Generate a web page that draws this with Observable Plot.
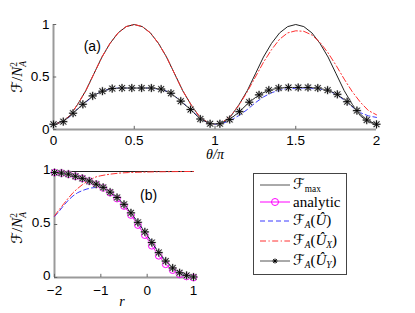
<!DOCTYPE html>
<html><head><meta charset="utf-8">
<script src="https://cdn.jsdelivr.net/npm/d3@7"></script>
<script src="https://cdn.jsdelivr.net/npm/@observablehq/plot@0.6"></script>
<style>
body{margin:0;background:#fff;}
#wrap{position:relative;width:415px;height:313px;overflow:hidden;font-family:"Liberation Sans",Arial,sans-serif;}
.abs{position:absolute;}
.panel svg{display:block;}
.ylab{position:absolute;transform:translate(-50%,-50%) rotate(-90deg);white-space:nowrap;font-family:"Liberation Serif",serif;font-size:15px;line-height:1;}
.cal{font-family:"DejaVu Serif","DejaVu Sans",serif;font-style:italic;}
.ss{display:inline-block;vertical-align:-0.45em;line-height:0.95;font-size:0.62em;text-align:left;}
.ss span{display:block;}
.xlab{position:absolute;transform:translate(-50%,-50%);font-family:"Liberation Serif",serif;font-style:italic;font-size:14px;line-height:1;white-space:nowrap;}
#legend{position:absolute;left:253px;top:173px;width:94px;height:102px;border:1px solid #444;background:#fff;box-sizing:border-box;}
.lrow{position:absolute;left:6px;height:18px;display:flex;align-items:center;font-family:"Liberation Serif",serif;font-size:15px;white-space:nowrap;}
.lrow svg{margin-right:3px;}
.lrow sub{font-size:0.62em;vertical-align:-0.35em;}
</style></head><body><div id="wrap"></div>
<script>
// ---------- Panel (a): θ/π on x ----------
const thetaA = [0,0.05,0.1,0.15,0.2,0.25,0.3,0.35,0.4,0.45,0.5,0.55,0.6,0.65,0.7,0.75,0.8,0.85,0.9,0.95,1.0,
  1.05,1.1,1.15,1.2,1.25,1.3,1.35,1.4,1.45,1.5,1.55,1.6,1.65,1.7,1.75,1.8,1.85,1.9,1.95,2.0];
const fmaxA = [0.05,0.07,0.13,0.24,0.37,0.53,0.69,0.82,0.92,0.98,1.0,0.98,0.92,0.82,0.69,0.53,0.37,0.24,0.13,0.07,0.05,
  0.07,0.13,0.24,0.37,0.53,0.69,0.82,0.92,0.98,1.0,0.98,0.92,0.82,0.69,0.53,0.37,0.24,0.13,0.07,0.05];
const uxA = [0.05,0.07,0.13,0.24,0.37,0.53,0.69,0.82,0.92,0.98,1.0,0.98,0.92,0.82,0.69,0.53,0.37,0.24,0.13,0.07,0.05,
  0.075,0.135,0.235,0.36,0.50,0.64,0.76,0.86,0.92,0.94,0.935,0.90,0.83,0.73,0.61,0.48,0.36,0.26,0.18,0.14];
const uA = [0.05,0.07,0.12,0.20,0.26,0.325,0.365,0.385,0.395,0.395,0.395,0.395,0.395,0.385,0.365,0.32,0.255,0.19,0.115,0.065,0.05,
  0.06,0.09,0.135,0.19,0.255,0.31,0.35,0.375,0.39,0.39,0.395,0.39,0.385,0.37,0.335,0.28,0.215,0.16,0.13,0.115];
const thetaStarA = [0,0.0606,0.1212,0.1818,0.2424,0.3030,0.3636,0.4242,0.4848,0.5455,0.6061,0.6667,0.7273,0.7879,0.8485,0.9091,0.9697,
  1.0303,1.0909,1.1515,1.2121,1.2727,1.3333,1.3939,1.4545,1.5152,1.5758,1.6364,1.6970,1.7576,1.8182,1.8788,1.9394,2.0];
const uyA = [0.05,0.075,0.155,0.24,0.32,0.365,0.39,0.395,0.395,0.395,0.395,0.385,0.345,0.27,0.19,0.10,0.055,
  0.055,0.095,0.17,0.26,0.33,0.375,0.395,0.40,0.40,0.40,0.395,0.375,0.335,0.265,0.18,0.09,0.05];
const xTicksA = [0,0.5,1,1.5,2];
const yTicks = [0,0.5,1];

// ---------- Panel (b): r on x ----------
const rStar = [-2,-1.85,-1.7,-1.55,-1.4,-1.25,-1.1,-0.95,-0.8,-0.65,-0.5,-0.35,-0.2,-0.05,0.1,0.25,0.4,0.55,0.7,0.85,1.0];
const analyticB = [0.99,0.985,0.975,0.955,0.935,0.91,0.88,0.845,0.80,0.745,0.675,0.59,0.495,0.40,0.30,0.205,0.125,0.07,0.03,0.01,0.0];
const uyB = [0.99,0.985,0.975,0.955,0.935,0.91,0.88,0.85,0.805,0.755,0.69,0.61,0.52,0.43,0.33,0.235,0.155,0.09,0.045,0.02,0.005];
const rCurve = [-2,-1.9,-1.8,-1.7,-1.6,-1.5,-1.4,-1.3,-1.2,-1.1,-1.0,-0.9,-0.8,-0.6,-0.4,-0.2,0,0.2,0.4,0.6,0.8,1.0];
const uB = [0.575,0.625,0.68,0.73,0.77,0.80,0.82,0.835,0.845,0.85,0.855,0.835,0.805,0.735,0.64,0.52,0.40,0.267,0.155,0.072,0.025,0.005];
const uxB = [0.58,0.64,0.695,0.75,0.80,0.84,0.875,0.905,0.93,0.95,0.96,0.968,0.975,0.985,0.99,0.993,0.995,0.997,0.998,0.999,1.0,1.0];
const rMax = [-2,1];
const fmaxB = [1,1];
const xTicksB = [-2,-1,0,1];

const labelsA = [{t:"(a)", x:0.24, y:0.79}];
const labelsB = [{t:"(b)", x:0.03, y:0.77}];

const C = {max:"#222", analytic:"#ff00ff", u:"#3b3bff", ux:"#ff3030", uy:"#222", axis:"#9a9a9a"};
const DASH = {u:"5,3", ux:"6,2.5,1.2,2.5"};

const zip = (xs, ys) => xs.map((x,i)=>({x, y: ys[i]}));
const fmt = d => String(d).replace("-", "\u2212");
const font = {fontFamily:"'Liberation Sans', Arial, sans-serif", fontSize:"13.5px", color:"#000", background:"transparent", overflow:"visible"};

function starMarks(data){
  return [
    Plot.dot(data,{x:"x",y:"y",symbol:"plus",r:2.9,stroke:"#aaa",strokeWidth:1.6}),
    Plot.dot(data,{x:"x",y:"y",symbol:"times",r:2.9,stroke:"#aaa",strokeWidth:1.6}),
    Plot.dot(data,{x:"x",y:"y",symbol:"plus",r:2.6,stroke:"#000",strokeWidth:0.9}),
    Plot.dot(data,{x:"x",y:"y",symbol:"times",r:2.6,stroke:"#000",strokeWidth:0.9})
  ];
}

const plotA = Plot.plot({
  width:415, height:160, marginLeft:53, marginRight:39, marginTop:24, marginBottom:31,
  x:{domain:[0,2]}, y:{domain:[0,1]}, style:font,
  marks:[
    Plot.ruleY([0],{stroke:C.axis,strokeWidth:2}),
    Plot.ruleX([0],{stroke:C.axis,strokeWidth:2}),
    Plot.ruleX(xTicksA,{x:d=>d,y1:0,y2:0.03,stroke:"#666"}),
    Plot.ruleY(yTicks,{y:d=>d,x1:0,x2:0.02,stroke:"#666"}),
    Plot.axisX(xTicksA,{tickSize:0,tickPadding:6,label:null,tickFormat:fmt}),
    Plot.axisY(yTicks,{tickSize:0,tickPadding:4,label:null,tickFormat:fmt}),
    Plot.line(zip(thetaA,fmaxA),{x:"x",y:"y",stroke:C.max,strokeWidth:1}),
    Plot.line(zip(thetaA,uA),{x:"x",y:"y",stroke:C.u,strokeWidth:1,strokeDasharray:DASH.u}),
    Plot.line(zip(thetaA,uxA),{x:"x",y:"y",stroke:C.ux,strokeWidth:1,strokeDasharray:DASH.ux}),
    Plot.line(zip(thetaStarA,uyA),{x:"x",y:"y",stroke:C.uy,strokeWidth:1}),
    ...starMarks(zip(thetaStarA,uyA)),
    Plot.text(labelsA,{x:"x",y:"y",text:"t",fontSize:14})
  ]
});

const plotB = Plot.plot({
  width:230, height:158, marginLeft:54, marginRight:37, marginTop:16, marginBottom:36,
  x:{domain:[-2,1]}, y:{domain:[0,1]}, style:font,
  marks:[
    Plot.ruleY([0],{stroke:C.axis,strokeWidth:2}),
    Plot.ruleX([-2],{stroke:C.axis,strokeWidth:2}),
    Plot.ruleX(xTicksB,{x:d=>d,y1:0,y2:0.03,stroke:"#666"}),
    Plot.ruleY(yTicks,{y:d=>d,x1:-2,x2:-1.93,stroke:"#666"}),
    Plot.axisX(xTicksB,{tickSize:0,tickPadding:8,label:null,tickFormat:fmt}),
    Plot.axisY(yTicks,{tickSize:0,tickPadding:4,label:null,tickFormat:fmt,dy:-2}),
    Plot.line(zip(rMax,fmaxB),{x:"x",y:"y",stroke:C.max,strokeWidth:1}),
    Plot.line(zip(rStar,analyticB),{x:"x",y:"y",stroke:C.analytic,strokeWidth:1}),
    Plot.dot(zip(rStar,analyticB),{x:"x",y:"y",r:3.4,stroke:C.analytic,strokeWidth:1,fill:"none"}),
    Plot.line(zip(rCurve,uB),{x:"x",y:"y",stroke:C.u,strokeWidth:1,strokeDasharray:DASH.u}),
    Plot.line(zip(rCurve,uxB),{x:"x",y:"y",stroke:C.ux,strokeWidth:1,strokeDasharray:DASH.ux}),
    Plot.line(zip(rStar,uyB),{x:"x",y:"y",stroke:C.uy,strokeWidth:1}),
    ...starMarks(zip(rStar,uyB)),
    Plot.text(labelsB,{x:"x",y:"y",text:"t",fontSize:14})
  ]
});

const wrap = document.getElementById("wrap");
function place(el, left, top){ const d=document.createElement("div"); d.className="abs panel"; d.style.left=left+"px"; d.style.top=top+"px"; d.appendChild(el); wrap.appendChild(d); }
place(plotA,0,0);
place(plotB,0,155);

const yl = '<span class="cal">ℱ</span>/<i>N</i><span class="ss"><span>2</span><span><i>A</i></span></span>';
wrap.insertAdjacentHTML("beforeend",
  `<div class="ylab" style="left:19px;top:77px">${yl}</div>
   <div class="ylab" style="left:19px;top:228px">${yl}</div>
   <div class="xlab" style="left:215px;top:155px">θ/π</div>
   <div class="xlab" style="left:122px;top:302px">r</div>`);

// ---------- Legend ----------
const legendItems = [
  {key:"max", html:'<span class="cal">ℱ</span><sub>max</sub>'},
  {key:"analytic", html:'analytic'},
  {key:"u", html:'<span class="cal">ℱ</span><sub><i>A</i></sub>(<i>Û</i>)'},
  {key:"ux", html:'<span class="cal">ℱ</span><sub><i>A</i></sub>(<i>Û</i><sub><i>X</i></sub>)'},
  {key:"uy", html:'<span class="cal">ℱ</span><sub><i>A</i></sub>(<i>Û</i><sub><i>Y</i></sub>)'}
];
const rowTops = [2, 19, 38, 58, 78];
function swatch(key){
  const col = key==="max"?"#555":key==="uy"?"#555":C[key];
  const dash = DASH[key] ? `stroke-dasharray="${DASH[key]}"` : "";
  let s = `<svg width="30" height="12"><line x1="0" y1="6" x2="30" y2="6" stroke="${col}" stroke-width="1" ${dash}/>`;
  if(key==="analytic") s += `<circle cx="15" cy="6" r="3.5" fill="none" stroke="${col}"/>`;
  if(key==="uy") s += `<path d="M15 3.5V8.5M12.5 6H17.5M13.2 4.2L16.8 7.8M16.8 4.2L13.2 7.8" stroke="#000" stroke-width="1"/>`;
  return s + "</svg>";
}
const leg = document.createElement("div"); leg.id="legend";
leg.innerHTML = legendItems.map((it,i)=>`<div class="lrow" style="top:${rowTops[i]}px">${swatch(it.key)}<span>${it.html}</span></div>`).join("");
wrap.appendChild(leg);
</script>
</body></html>
